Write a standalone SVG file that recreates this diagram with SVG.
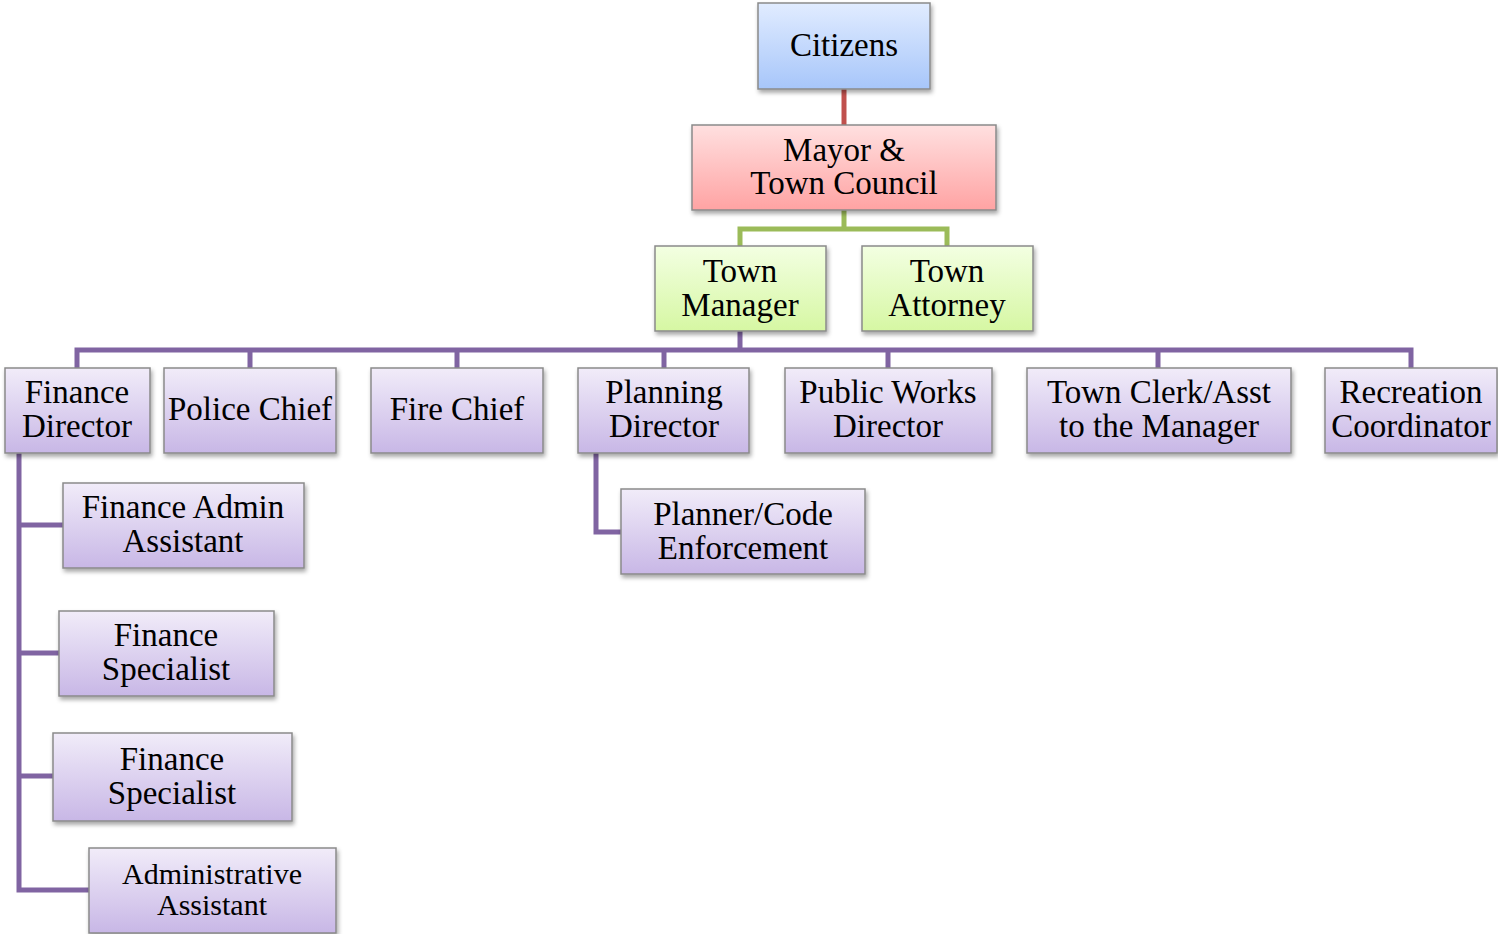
<svg xmlns="http://www.w3.org/2000/svg" width="1498" height="934" viewBox="0 0 1498 934">
<defs>
<linearGradient id="gBlue" x1="0" y1="0" x2="0" y2="1"><stop offset="0" stop-color="#e1ecff"/><stop offset="1" stop-color="#a7c6fa"/></linearGradient>
<linearGradient id="gRed" x1="0" y1="0" x2="0" y2="1"><stop offset="0" stop-color="#ffe0e0"/><stop offset="1" stop-color="#ffa3a3"/></linearGradient>
<linearGradient id="gGreen" x1="0" y1="0" x2="0" y2="1"><stop offset="0" stop-color="#f3ffe2"/><stop offset="1" stop-color="#d6f7a3"/></linearGradient>
<linearGradient id="gPurple" x1="0" y1="0" x2="0" y2="1"><stop offset="0" stop-color="#f1ecf9"/><stop offset="1" stop-color="#c8b7e6"/></linearGradient>
<filter id="sh" x="-10%" y="-10%" width="130%" height="140%"><feDropShadow dx="1.5" dy="3" stdDeviation="2" flood-color="#000" flood-opacity="0.35"/></filter>
<style>
.box{stroke:#8a8a8a;stroke-width:1.5;filter:url(#sh)}
.b{fill:url(#gBlue)}.r{fill:url(#gRed)}.g{fill:url(#gGreen)}.p{fill:url(#gPurple)}
text{font-family:"Liberation Serif","Times New Roman",serif;font-size:33px;fill:#000;text-anchor:middle}
.sm{font-size:30px}
.c{fill:none;stroke-width:5;stroke-linejoin:miter}
.cr{stroke:#c0504d}.cg{stroke:#9bbb59}.cp{stroke:#8064a2}
</style>
</defs>
<g id="connectors">
<path class="c cr" d="M844 89V125"/>
<path class="c cg" d="M844 210V229M740 246V229H947V246"/>
<path class="c cp" d="M740 331V350M77 368V350H1411V368M250 350V368M457 350V368M664 350V368M888 350V368M1158 350V368"/>
<path class="c cp" d="M19 453V890H89M19 525H63M19 653H59M19 776H53"/>
<path class="c cp" d="M596 453V532H621"/>
</g>
<g id="citizens"><rect class="box b" x="758" y="3" width="172" height="86"/><text x="844" y="56">Citizens</text></g>
<g id="mayor"><rect class="box r" x="692" y="125" width="304" height="85"/><text x="844" y="161">Mayor &amp;</text><text x="844" y="194">Town Council</text></g>
<g id="town-manager"><rect class="box g" x="655" y="246" width="171" height="85"/><text x="740" y="282">Town</text><text x="740" y="316">Manager</text></g>
<g id="town-attorney"><rect class="box g" x="862" y="246" width="171" height="85"/><text x="947" y="282">Town</text><text x="947" y="316">Attorney</text></g>
<g id="finance-director"><rect class="box p" x="5" y="368" width="145" height="85"/><text x="77" y="403">Finance</text><text x="77" y="437">Director</text></g>
<g id="police-chief"><rect class="box p" x="164" y="368" width="172" height="85"/><text x="250" y="420">Police Chief</text></g>
<g id="fire-chief"><rect class="box p" x="371" y="368" width="172" height="85"/><text x="457" y="420">Fire Chief</text></g>
<g id="planning-director"><rect class="box p" x="578" y="368" width="171" height="85"/><text x="664" y="403">Planning</text><text x="664" y="437">Director</text></g>
<g id="public-works-director"><rect class="box p" x="785" y="368" width="207" height="85"/><text x="888" y="403">Public Works</text><text x="888" y="437">Director</text></g>
<g id="town-clerk"><rect class="box p" x="1027" y="368" width="264" height="85"/><text x="1159" y="403">Town Clerk/Asst</text><text x="1159" y="437">to the Manager</text></g>
<g id="recreation-coordinator"><rect class="box p" x="1325" y="368" width="172" height="85"/><text x="1411" y="403">Recreation</text><text x="1411" y="437">Coordinator</text></g>
<g id="finance-admin-assistant"><rect class="box p" x="63" y="483" width="241" height="85"/><text x="183" y="518">Finance Admin</text><text x="183" y="552">Assistant</text></g>
<g id="finance-specialist-1"><rect class="box p" x="59" y="611" width="215" height="85"/><text x="166" y="646">Finance</text><text x="166" y="680">Specialist</text></g>
<g id="finance-specialist-2"><rect class="box p" x="53" y="733" width="239" height="88"/><text x="172" y="770">Finance</text><text x="172" y="804">Specialist</text></g>
<g id="administrative-assistant"><rect class="box p" x="89" y="848" width="247" height="85"/><text class="sm" x="212" y="884">Administrative</text><text class="sm" x="212" y="915">Assistant</text></g>
<g id="planner-code-enforcement"><rect class="box p" x="621" y="489" width="244" height="85"/><text x="743" y="525">Planner/Code</text><text x="743" y="559">Enforcement</text></g>
</svg>
